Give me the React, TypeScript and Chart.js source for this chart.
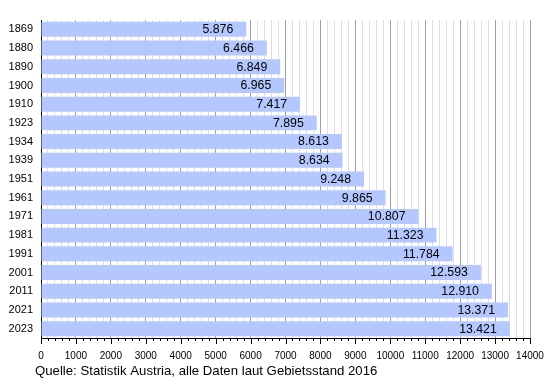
import React, { useEffect, useRef } from "react";
import { Chart, registerables } from "chart.js";

Chart.register(...registerables);

const years = ["1869", "1880", "1890", "1900", "1910", "1923", "1934", "1939", "1951", "1961", "1971", "1981", "1991", "2001", "2011", "2021", "2023"];
const population = [5876, 6466, 6849, 6965, 7417, 7895, 8613, 8634, 9248, 9865, 10807, 11323, 11784, 12593, 12910, 13371, 13421];
const xMin = 0;
const xMax = 14000;
const majorStep = 1000;
const minorStep = 200;
const footerText = "Quelle: Statistik Austria, alle Daten laut Gebietsstand 2016";

const FONT = "'Liberation Sans', Arial, sans-serif";
const NARROW = "'Liberation Sans Narrow', 'Liberation Sans', Arial, sans-serif";

function formatDe(v: number): string {
  const s = String(Math.round(v));
  return s.replace(/\B(?=(\d{3})+(?!\d))/g, ".");
}

const extrasPlugin = {
  id: "extras",
  afterDatasetsDraw(chart: any) {
    const ctx = chart.ctx;
    const meta = chart.getDatasetMeta(0);
    ctx.save();
    ctx.fillStyle = "#000";
    ctx.font = `12.3px ${FONT}`;
    ctx.textAlign = "right";
    ctx.textBaseline = "middle";
    meta.data.forEach((bar: any, i: number) => {
      ctx.fillText(formatDe(population[i]), bar.x - 13, bar.y + 0.5);
    });
    ctx.restore();
  },
  afterDraw(chart: any) {
    const ctx = chart.ctx;
    const xs = chart.scales.x;
    const area = chart.chartArea;
    ctx.save();
    ctx.strokeStyle = "#000";
    ctx.lineWidth = 1;
    ctx.beginPath();
    for (let v = xMin; v <= xMax; v += minorStep) {
      const px = Math.round(xs.getPixelForValue(v)) + 0.5;
      const len = v % majorStep === 0 ? 6 : 3;
      ctx.moveTo(px, area.bottom);
      ctx.lineTo(px, area.bottom + len);
    }
    ctx.stroke();
    ctx.fillStyle = "#000";
    ctx.font = `13.2px ${FONT}`;
    ctx.textAlign = "left";
    ctx.textBaseline = "alphabetic";
    ctx.fillText(footerText, area.left - 6, chart.height - 5);
    ctx.restore();
  },
};

export default function App() {
  const canvasRef = useRef<HTMLCanvasElement | null>(null);
  useEffect(() => {
    if (!canvasRef.current) return;
    const chart = new Chart(canvasRef.current, {
      type: "bar",
      data: {
        labels: years,
        datasets: [
          {
            data: population,
            backgroundColor: "#b4c8ff",
            borderWidth: 0,
            categoryPercentage: 1,
            barPercentage: 0.8,
          },
        ],
      },
      options: {
        indexAxis: "y",
        animation: false,
        responsive: false,
        maintainAspectRatio: false,
        layout: { padding: { top: 20, right: 20, left: 0, bottom: 18 } },
        plugins: {
          legend: { display: false },
          tooltip: { enabled: false },
          title: { display: false },
        },
        scales: {
          x: {
            type: "linear",
            min: xMin,
            max: xMax,
            afterFit: (s: any) => {
              s.height = 24;
              s.paddingLeft = 0;
              s.paddingRight = 0;
            },
            afterBuildTicks: (s: any) => {
              const t = [];
              for (let v = xMin; v <= xMax; v += minorStep) t.push({ value: v });
              s.ticks = t;
            },
            ticks: {
              autoSkip: false,
              maxRotation: 0,
              padding: 12,
              color: "#000",
              font: { family: NARROW, size: 10 },
              callback: (v: any) => (Number(v) % majorStep === 0 ? String(v) : ""),
            },
            grid: {
              drawTicks: false,
              color: (c: any) => (c.tick && c.tick.value % majorStep === 0 ? "#a0a0a0" : "#dedede"),
              lineWidth: 1,
            },
            border: { display: true, color: "#000", width: 1 },
          },
          y: {
            type: "category",
            afterFit: (s: any) => {
              s.width = 41;
            },
            ticks: {
              padding: 8,
              color: "#000",
              font: { family: FONT, size: 11 },
            },
            grid: { display: false, drawTicks: false },
            border: { display: true, color: "#000", width: 1 },
          },
        },
      },
      plugins: [extrasPlugin],
    });
    return () => chart.destroy();
  }, []);
  return (
    <div style={{ position: "fixed", left: 0, top: 0, width: 550, height: 380, background: "#fff" }}>
      <canvas ref={canvasRef} width={550} height={380} style={{ width: 550, height: 380, display: "block" }} />
    </div>
  );
}
